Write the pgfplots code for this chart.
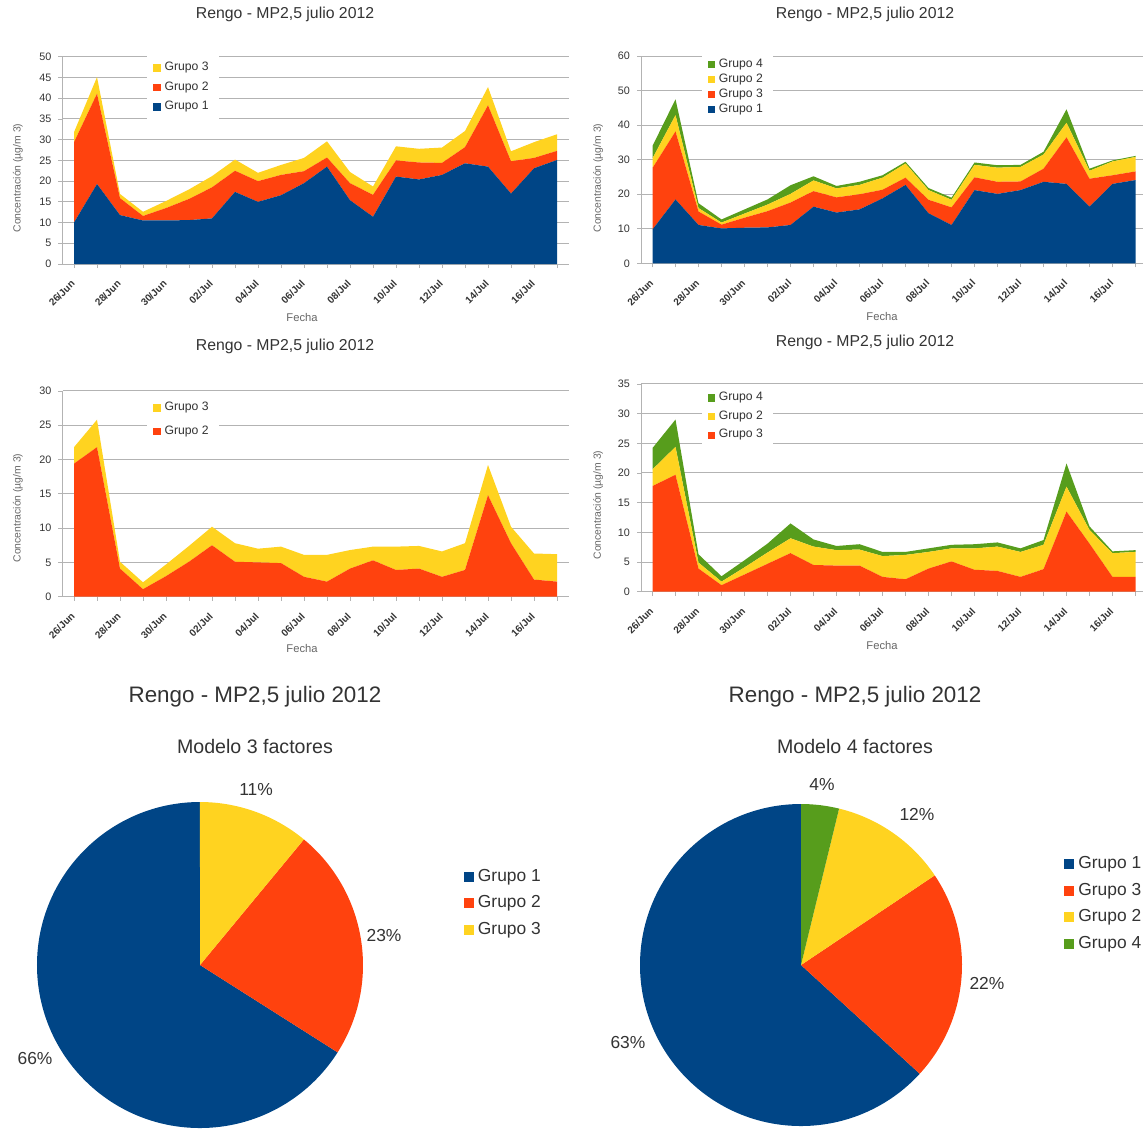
\documentclass[border=0pt]{standalone}
\usepackage{fontspec}
\setmainfont{Liberation Sans}
\usepackage{pgfplots}
\pgfplotsset{compat=1.18}
\usepackage{pgfplotstable}

\definecolor{cblue}{HTML}{004586}
\definecolor{cred}{HTML}{FF420E}
\definecolor{cyellow}{HTML}{FFD320}
\definecolor{cgreen}{HTML}{579D1C}
\definecolor{gridc}{HTML}{B3B3B3}
\definecolor{txt}{HTML}{333333}

% modelo 3 factores
\pgfplotstableread{
i  g1   g2   g3
0  10.0 19.4 2.4
1  19.3 21.8 4.0
2  11.8 4.1  1.0
3  10.5 1.1  1.0
4  10.5 3.0  1.7
5  10.6 5.1  2.3
6  11.0 7.5  2.7
7  17.4 5.1  2.7
8  15.0 5.0  2.0
9  16.6 4.9  2.4
10 19.5 2.9  3.2
11 23.5 2.2  3.9
12 15.4 4.1  2.7
13 11.4 5.3  2.0
14 21.1 3.9  3.4
15 20.4 4.1  3.3
16 21.5 2.9  3.7
17 24.3 3.9  3.9
18 23.5 14.8 4.4
19 17.0 7.8  2.4
20 23.1 2.5  3.8
21 25.1 2.2  4.0
}\tresf

% modelo 4 factores
\pgfplotstableread{
i  g1   g3   g2  g4
0  9.8  17.8 2.8 3.6
1  18.5 19.7 4.7 4.6
2  11.1 3.9  1.0 1.4
3  10.1 1.1  0.6 0.9
4  10.3 2.9  1.2 1.2
5  10.4 4.7  1.9 1.5
6  11.1 6.5  2.5 2.5
7  16.4 4.5  3.1 1.2
8  14.7 4.4  2.6 0.7
9  15.6 4.4  2.7 0.9
10 18.8 2.5  3.5 0.7
11 22.7 2.1  4.1 0.5
12 14.5 3.9  2.8 0.6
13 11.1 5.1  2.2 0.6
14 21.2 3.7  3.6 0.7
15 20.1 3.5  4.1 0.7
16 21.2 2.5  4.2 0.6
17 23.6 3.8  4.1 0.8
18 23.0 13.5 4.2 3.9
19 16.4 8.1  2.3 0.6
20 23.0 2.5  4.0 0.3
21 24.1 2.5  4.2 0.3
}\cuatrof

\pgfplotsset{
  rengo/.style={
    scale only axis, width=253pt, height=103.6pt,
    xmin=-0.5, xmax=21.5, ymin=0,
    stack plots=y,
    axis x line*=bottom, axis y line*=left,
    axis line style={draw=gridc, line width=0.5pt},
    ymajorgrids, grid style={draw=gridc, line width=0.5pt},
    xtick={0,2,...,20},
    xticklabels={26/Jun,28/Jun,30/Jun,02/Jul,04/Jul,06/Jul,08/Jul,10/Jul,12/Jul,14/Jul,16/Jul},
    minor xtick={1,3,...,21},
    tick align=outside, major tick length=2pt, minor tick length=2pt,
    tick style={draw=gridc, line width=0.4pt},
    xticklabel style={xshift=0pt, yshift=-6.5pt, rotate=45, anchor=east, inner sep=0.5pt, font=\bfseries\fontsize{5}{6}\selectfont, text=txt},
    yticklabel style={font=\fontsize{5.4}{6}\selectfont, text=txt},
    /pgf/number format/assume math mode=true,
    legend cell align=left,
    legend image code/.code={\fill[##1] (0pt,-1.8pt) rectangle (3.6pt,1.8pt);},
    reverse legend,
    legend style={draw=none, fill=white, font=\fontsize{6.1}{7}\selectfont, text=txt, anchor=north west},
  },
  pie/.style={
    scale only axis, xmin=-1, xmax=1, ymin=-1, ymax=1, hide axis, clip=false,
    legend cell align=left,
    legend image code/.code={\fill[##1] (0pt,-2.5pt) rectangle (5pt,2.5pt);},
    legend style={draw=none, fill=none, font=\fontsize{8.7}{10}\selectfont, text=txt, anchor=north west, row sep=1.7pt},
  },
}

% porcion de torta: inicio (%), valor (%), color, radio
\newcommand\slice[4]{%
  \pgfmathsetmacro\sa{90+3.6*(#1)}%
  \pgfmathsetmacro\ea{90+3.6*(#1+#2)}%
  \edef\doslice{\noexpand\fill[#3] (axis cs:0,0) -- (axis cs:{cos(\sa)},{sin(\sa)}) arc[start angle=\sa, end angle=\ea, radius=#4] -- cycle;}%
  \doslice}

\begin{document}
\begin{tikzpicture}
\useasboundingbox (0,0) rectangle (571.5pt,-567.5pt);

% --- arriba izquierda
\begin{axis}[rengo, at={(31.25pt,-132pt)}, anchor=south west, ymax=50, ytick={0,5,...,50},
  legend style={at={(0.167,1)}, yshift=1.5pt, row sep=0pt}]
\addplot[fill=cblue, draw=none] table[x=i, y=g1] {\tresf} \closedcycle;
\addlegendentry{Grupo 1}
\addplot[fill=cred, draw=none] table[x=i, y=g2] {\tresf} \closedcycle;
\addlegendentry{Grupo 2}
\addplot[fill=cyellow, draw=none] table[x=i, y=g3] {\tresf} \closedcycle;
\addlegendentry{Grupo 3}
\end{axis}

% --- arriba derecha
\begin{axis}[rengo, at={(320.5pt,-131.65pt)}, anchor=south west, ymax=60, ytick={0,10,...,60},
  legend style={at={(0.119,1)}, yshift=3pt, row sep=-2.2pt}]
\addplot[fill=cblue, draw=none] table[x=i, y=g1] {\cuatrof} \closedcycle;
\addlegendentry{Grupo 1}
\addplot[fill=cred, draw=none] table[x=i, y=g3] {\cuatrof} \closedcycle;
\addlegendentry{Grupo 3}
\addplot[fill=cyellow, draw=none] table[x=i, y=g2] {\cuatrof} \closedcycle;
\addlegendentry{Grupo 2}
\addplot[fill=cgreen, draw=none] table[x=i, y=g4] {\cuatrof} \closedcycle;
\addlegendentry{Grupo 4}
\end{axis}

% --- centro izquierda
\begin{axis}[rengo, at={(31.25pt,-298.35pt)}, anchor=south west, height=102.9pt, ymax=30, ytick={0,5,...,30},
  legend style={at={(0.167,1)}, yshift=-1.5pt, row sep=2pt}]
\addplot[fill=cred, draw=none] table[x=i, y=g2] {\tresf} \closedcycle;
\addlegendentry{Grupo 2}
\addplot[fill=cyellow, draw=none] table[x=i, y=g3] {\tresf} \closedcycle;
\addlegendentry{Grupo 3}
\end{axis}

% --- centro derecha
\begin{axis}[rengo, at={(320.5pt,-295.85pt)}, anchor=south west, height=103.9pt, ymax=35, ytick={0,5,...,35},
  legend style={at={(0.119,1)}, yshift=0pt, row sep=-0.5pt}]
\addplot[fill=cred, draw=none] table[x=i, y=g3] {\cuatrof} \closedcycle;
\addlegendentry{Grupo 3}
\addplot[fill=cyellow, draw=none] table[x=i, y=g2] {\cuatrof} \closedcycle;
\addlegendentry{Grupo 2}
\addplot[fill=cgreen, draw=none] table[x=i, y=g4] {\cuatrof} \closedcycle;
\addlegendentry{Grupo 4}
\end{axis}

% titulos y rotulos de los graficos de area
\begin{scope}[font=\fontsize{7.9}{9}\selectfont, text=txt]
\node at (142.5pt,-7pt) {Rengo - MP2,5 julio 2012};
\node at (432.5pt,-7pt) {Rengo - MP2,5 julio 2012};
\node at (142.5pt,-173pt) {Rengo - MP2,5 julio 2012};
\node at (432.5pt,-171pt) {Rengo - MP2,5 julio 2012};
\end{scope}
\begin{scope}[font=\fontsize{5.2}{6}\selectfont, text=black!60]
\node[rotate=90] at (9pt,-89pt) {Concentración (µg/m 3)};
\node[rotate=90] at (299pt,-89pt) {Concentración (µg/m 3)};
\node[rotate=90] at (9pt,-254pt) {Concentración (µg/m 3)};
\node[rotate=90] at (299pt,-252.5pt) {Concentración (µg/m 3)};
\end{scope}
\begin{scope}[font=\fontsize{5.6}{6}\selectfont, text=black!60]
\node at (151pt,-158.5pt) {Fecha};
\node at (441pt,-158pt) {Fecha};
\node at (151pt,-324pt) {Fecha};
\node at (441pt,-322.5pt) {Fecha};
\end{scope}

% --- torta 3 factores
\begin{axis}[pie, at={(18.5pt,-564pt)}, anchor=south west, width=163pt, height=163pt,
  legend style={at={(1.29,0.82)}}]
\slice{0}{66}{cblue}{81.5pt}
\slice{66}{23}{cred}{81.5pt}
\slice{89}{11}{cyellow}{81.5pt}
\addlegendimage{fill=cblue, draw=none}
\addlegendentry{Grupo 1}
\addlegendimage{fill=cred, draw=none}
\addlegendentry{Grupo 2}
\addlegendimage{fill=cyellow, draw=none}
\addlegendentry{Grupo 3}
\node[font=\fontsize{8.7}{10}\selectfont, text=txt] at (axis cs:0.344,1.074) {11\%};
\node[font=\fontsize{8.7}{10}\selectfont, text=txt] at (axis cs:1.129,0.184) {23\%};
\node[font=\fontsize{8.7}{10}\selectfont, text=txt] at (axis cs:-1.012,-0.571) {66\%};
\end{axis}

% --- torta 4 factores
\begin{axis}[pie, at={(320pt,-563pt)}, anchor=south west, width=161pt, height=161pt,
  legend style={at={(1.298,0.863)}}]
\slice{0}{63.2}{cblue}{80.5pt}
\slice{63.2}{21.2}{cred}{80.5pt}
\slice{84.4}{11.8}{cyellow}{80.5pt}
\slice{96.2}{3.8}{cgreen}{80.5pt}
\addlegendimage{fill=cblue, draw=none}
\addlegendentry{Grupo 1}
\addlegendimage{fill=cred, draw=none}
\addlegendentry{Grupo 3}
\addlegendimage{fill=cyellow, draw=none}
\addlegendentry{Grupo 2}
\addlegendimage{fill=cgreen, draw=none}
\addlegendentry{Grupo 4}
\node[font=\fontsize{8.7}{10}\selectfont, text=txt] at (axis cs:0.130,1.124) {4\%};
\node[font=\fontsize{8.7}{10}\selectfont, text=txt] at (axis cs:0.720,0.932) {12\%};
\node[font=\fontsize{8.7}{10}\selectfont, text=txt] at (axis cs:1.155,-0.112) {22\%};
\node[font=\fontsize{8.7}{10}\selectfont, text=txt] at (axis cs:-1.075,-0.484) {63\%};
\end{axis}

% titulos de las tortas
\node[font=\fontsize{11.2}{13}\selectfont, text=txt] at (127.5pt,-348.5pt) {Rengo - MP2,5 julio 2012};
\node[font=\fontsize{9.8}{11}\selectfont, text=txt] at (127.5pt,-373pt) {Modelo 3 factores};
\node[font=\fontsize{11.2}{13}\selectfont, text=txt] at (427.5pt,-348.5pt) {Rengo - MP2,5 julio 2012};
\node[font=\fontsize{9.8}{11}\selectfont, text=txt] at (427.5pt,-373pt) {Modelo 4 factores};
\end{tikzpicture}
\end{document}
